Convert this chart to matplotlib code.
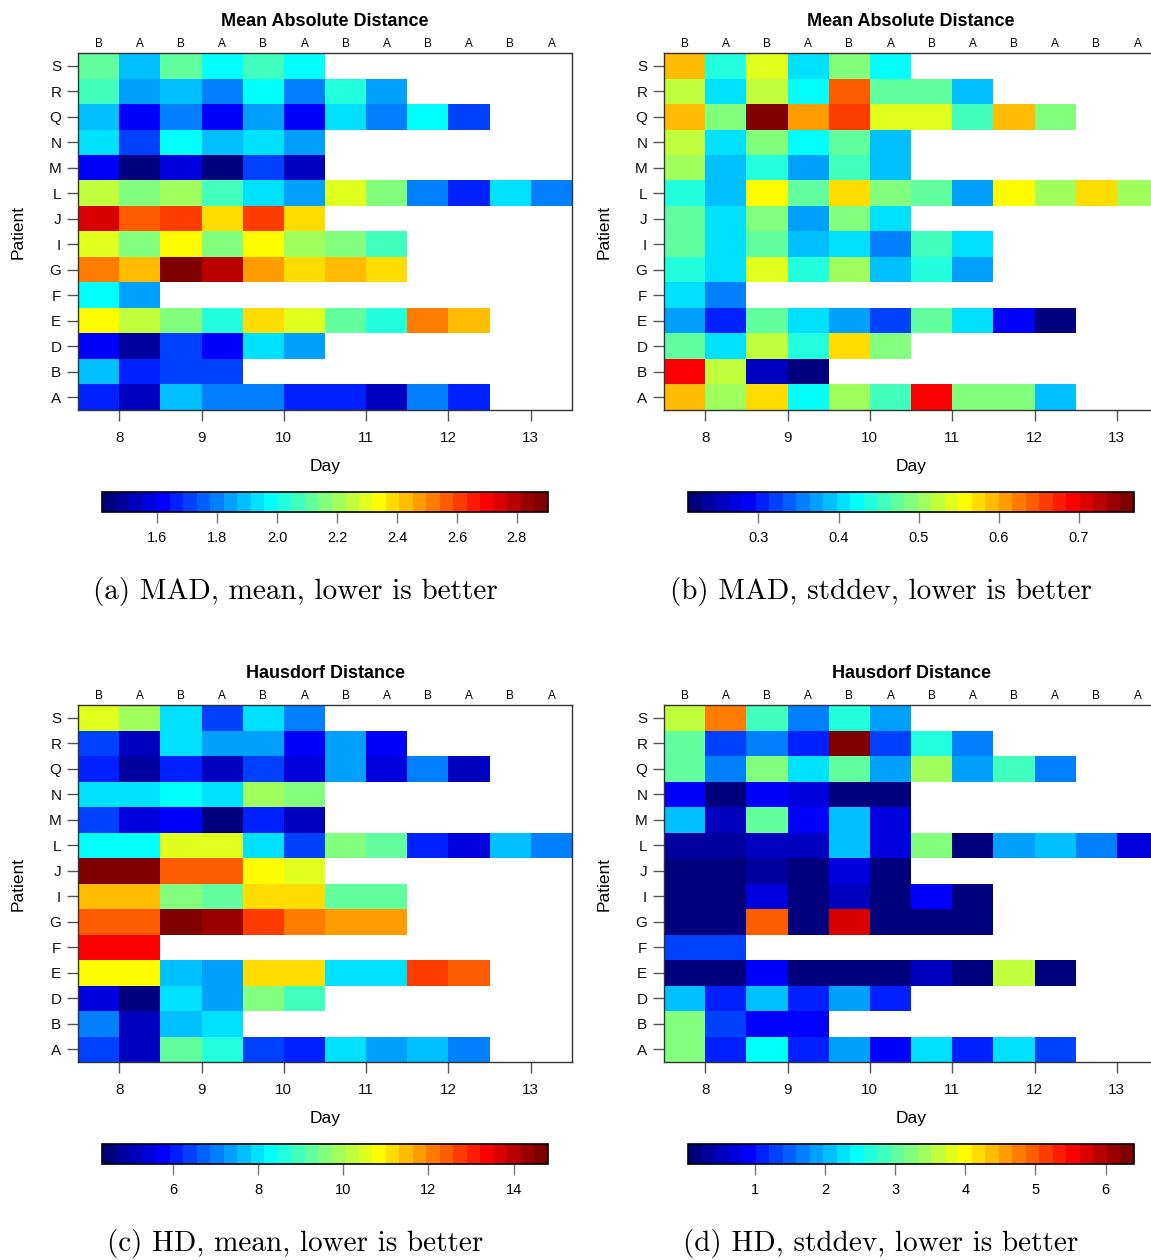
import numpy as np
import matplotlib
matplotlib.use("Agg")
import matplotlib.pyplot as plt
from matplotlib.colors import LinearSegmentedColormap, ListedColormap, BoundaryNorm

W, H = 1151, 1260
plt.rcParams["font.family"] = ["Liberation Sans", "DejaVu Sans"]

patients = ["A", "B", "D", "E", "F", "G", "I", "J", "L", "M", "N", "Q", "R", "S"]
days = [8, 9, 10, 11, 12, 13]
arms = ["B", "A"]

# Per-patient series, columns ordered day 8 B, day 8 A, day 9 B, ... (missing sessions omitted)
mad_mean = [
    [1.66, 1.53, 1.89, 1.80, 1.80, 1.66, 1.66, 1.53, 1.80, 1.66],
    [1.89, 1.66, 1.71, 1.71],
    [1.62, 1.48, 1.71, 1.62, 1.93, 1.84],
    [2.34, 2.25, 2.16, 2.02, 2.39, 2.30, 2.12, 2.02, 2.52, 2.43],
    [1.98, 1.84],
    [2.52, 2.43, 2.88, 2.79, 2.48, 2.39, 2.43, 2.39],
    [2.30, 2.16, 2.34, 2.16, 2.34, 2.21, 2.16, 2.07],
    [2.75, 2.57, 2.61, 2.39, 2.61, 2.39],
    [2.25, 2.16, 2.21, 2.07, 1.93, 1.84, 2.30, 2.16, 1.80, 1.66, 1.93, 1.80],
    [1.62, 1.44, 1.57, 1.44, 1.71, 1.53],
    [1.93, 1.71, 1.98, 1.89, 1.93, 1.84],
    [1.89, 1.62, 1.80, 1.62, 1.84, 1.62, 1.93, 1.80, 1.98, 1.71],
    [2.07, 1.84, 1.89, 1.80, 1.98, 1.80, 2.02, 1.84],
    [2.12, 1.89, 2.12, 1.98, 2.07, 1.98],
]

mad_sd = [
    [0.592, 0.507, 0.575, 0.423, 0.507, 0.457, 0.693, 0.490, 0.490, 0.389],
    [0.693, 0.524, 0.254, 0.220],
    [0.474, 0.406, 0.524, 0.440, 0.575, 0.490],
    [0.372, 0.305, 0.474, 0.406, 0.372, 0.322, 0.474, 0.406, 0.288, 0.220],
    [0.406, 0.355],
    [0.440, 0.406, 0.541, 0.440, 0.507, 0.389, 0.440, 0.372],
    [0.474, 0.406, 0.474, 0.389, 0.406, 0.355, 0.457, 0.406],
    [0.474, 0.406, 0.490, 0.372, 0.490, 0.406],
    [0.440, 0.389, 0.558, 0.474, 0.575, 0.490, 0.474, 0.372, 0.558, 0.507, 0.575, 0.507],
    [0.507, 0.389, 0.440, 0.372, 0.457, 0.389],
    [0.524, 0.406, 0.490, 0.423, 0.474, 0.389],
    [0.592, 0.490, 0.761, 0.609, 0.659, 0.541, 0.541, 0.457, 0.592, 0.490],
    [0.524, 0.406, 0.524, 0.423, 0.642, 0.474, 0.474, 0.389],
    [0.592, 0.440, 0.541, 0.406, 0.490, 0.423],
]

hd_mean = [
    [6.39, 5.12, 9.25, 8.62, 6.39, 6.08, 7.98, 7.35, 7.66, 7.03],
    [7.03, 5.12, 7.66, 7.98],
    [5.44, 4.49, 7.98, 7.35, 9.57, 8.93],
    [10.84, 10.84, 7.66, 7.35, 11.16, 11.16, 7.98, 7.98, 12.75, 12.43],
    [13.38, 13.38],
    [12.43, 12.43, 14.65, 14.33, 12.75, 12.11, 11.79, 11.79],
    [11.48, 11.48, 9.57, 9.25, 11.16, 11.16, 9.25, 9.25],
    [14.65, 14.65, 12.43, 12.43, 10.84, 10.52],
    [8.30, 8.30, 10.52, 10.52, 7.98, 6.39, 9.57, 9.25, 6.08, 5.44, 7.66, 7.03],
    [6.39, 5.44, 5.76, 4.49, 6.08, 5.12],
    [7.98, 7.98, 8.30, 7.98, 9.89, 9.57],
    [6.08, 4.81, 6.08, 5.12, 6.39, 5.44, 7.35, 5.44, 7.03, 5.12],
    [6.39, 5.12, 7.98, 7.35, 7.35, 5.76, 7.35, 5.76],
    [10.52, 9.89, 7.98, 6.39, 7.98, 7.03],
]

hd_sd = [
    [3.23, 1.11, 2.46, 1.11, 1.88, 0.91, 2.26, 1.11, 2.26, 1.30],
    [3.23, 1.30, 0.91, 0.91],
    [2.07, 1.11, 2.07, 1.11, 1.88, 1.11],
    [0.14, 0.14, 0.91, 0.14, 0.14, 0.14, 0.53, 0.14, 3.61, 0.14],
    [1.30, 1.30],
    [0.14, 0.14, 4.96, 0.14, 5.73, 0.14, 0.14, 0.14],
    [0.14, 0.14, 0.72, 0.14, 0.53, 0.14, 0.91, 0.14],
    [0.14, 0.14, 0.34, 0.14, 0.72, 0.14],
    [0.34, 0.34, 0.53, 0.53, 2.07, 0.72, 3.23, 0.14, 1.88, 2.07, 1.69, 0.72],
    [2.07, 0.53, 3.03, 0.91, 2.07, 0.72],
    [0.91, 0.14, 0.91, 0.72, 0.14, 0.14],
    [3.03, 1.69, 3.23, 2.26, 3.03, 1.88, 3.42, 1.88, 2.84, 1.69],
    [3.03, 1.30, 1.69, 1.11, 6.31, 1.30, 2.65, 1.69],
    [3.61, 4.77, 2.84, 1.69, 2.65, 1.88],
]

# Colour-key limits and labelled ticks of each panel
mad_mean_range = (1.416, 2.904)
mad_sd_range = (0.212, 0.769)
hd_mean_range = (4.33, 14.81)
hd_sd_range = (0.048, 6.405)

mad_mean_ticks = [1.6, 1.8, 2.0, 2.2, 2.4, 2.6, 2.8]
mad_sd_ticks = [0.3, 0.4, 0.5, 0.6, 0.7]
hd_mean_ticks = [6, 8, 10, 12, 14]
hd_sd_ticks = [1, 2, 3, 4, 5, 6]

N_COLORS = 33
jet_anchors = ["#00007F", "#0000FF", "#007FFF", "#00FFFF", "#7FFF7F",
               "#FFFF00", "#FF7F00", "#FF0000", "#7F0000"]
ramp = LinearSegmentedColormap.from_list("jet_ramp", jet_anchors)
cmap = ListedColormap(ramp(np.linspace(0, 1, N_COLORS)))
cmap.set_bad("white")

n_cols = len(days) * len(arms)


def to_grid(rows):
    grid = np.full((len(rows), n_cols), np.nan)
    for i, r in enumerate(rows):
        grid[i, :len(r)] = r
    return np.ma.masked_invalid(grid)


def frac(l, t, r, b):
    return [l / W, 1 - b / H, (r - l) / W, (b - t) / H]


panels = [
    (mad_mean, mad_mean_range, mad_mean_ticks, "{:.1f}", "Mean Absolute Distance",
     "(a) MAD, mean, lower is better", 0, 0),
    (mad_sd, mad_sd_range, mad_sd_ticks, "{:.1f}", "Mean Absolute Distance",
     "(b) MAD, stddev, lower is better", 586, 0),
    (hd_mean, hd_mean_range, hd_mean_ticks, "{:d}", "Hausdorf Distance",
     "(c) HD, mean, lower is better", 0, 652),
    (hd_sd, hd_sd_range, hd_sd_ticks, "{:d}", "Hausdorf Distance",
     "(d) HD, stddev, lower is better", 586, 652),
]

fig = plt.figure(figsize=(W / 100, H / 100), dpi=100)
tick_col = "#555555"

for rows, (lo, hi), cticks, fmt, title, caption, dx, dy in panels:
    Z = to_grid(rows)
    levels = np.linspace(lo, hi, N_COLORS + 1)
    norm = BoundaryNorm(levels, N_COLORS)

    ax = fig.add_axes(frac(78 + dx, 53 + dy, 572 + dx, 410 + dy))
    xe = np.arange(n_cols + 1) - 0.5
    ye = np.arange(len(patients) + 1) - 0.5
    mesh = ax.pcolormesh(xe, ye, Z, cmap=cmap, norm=norm, antialiased=False)
    ax.set_xlim(-0.5, n_cols - 0.5)
    ax.set_ylim(-0.5, len(patients) - 0.5)

    ax.set_yticks(range(len(patients)), patients)
    day_pos = [2 * (d - days[0]) + 0.5 for d in days]
    ax.set_xticks(day_pos, [str(d) for d in days])
    ax.tick_params(axis="both", length=8, width=1, color=tick_col,
                   labelsize=11, labelcolor="#111111")
    ax.tick_params(axis="x", pad=7)
    ax.tick_params(axis="y", pad=4)
    for s in ax.spines.values():
        s.set_linewidth(1.0)
        s.set_color("#333333")

    top = ax.secondary_xaxis("top")
    top.set_xticks(range(n_cols), arms * len(days))
    top.tick_params(length=0, labelsize=8.5, pad=2)
    top.spines["top"].set_visible(False)

    fig.text((325 + dx) / W, 1 - (21 + dy) / H, title, ha="center", va="center",
             fontsize=13, fontweight="bold")
    fig.text((325 + dx) / W, 1 - (467 + dy) / H, "Day", ha="center", va="center",
             fontsize=12.5)
    fig.text((18 + dx) / W, 1 - (232 + dy) / H, "Patient", ha="center", va="center",
             fontsize=12.5, rotation=90)

    cax = fig.add_axes(frac(102 + dx, 492 + dy, 548 + dx, 512 + dy))
    cb = fig.colorbar(mesh, cax=cax, orientation="horizontal", ticks=cticks)
    cb.set_ticklabels([fmt.format(t) for t in cticks])
    cb.minorticks_off()
    cb.outline.set_linewidth(1.2)
    cax.tick_params(which="major", length=8, width=1, color="#777777",
                    labelsize=10.5, pad=6)
    cax.tick_params(which="minor", length=0)

    fig.text((295 + dx) / W, 1 - (591 + dy) / H, caption, ha="center", va="center",
             fontsize=21, family=["cmr10", "DejaVu Serif"])

fig.savefig("out.png", dpi=100)
